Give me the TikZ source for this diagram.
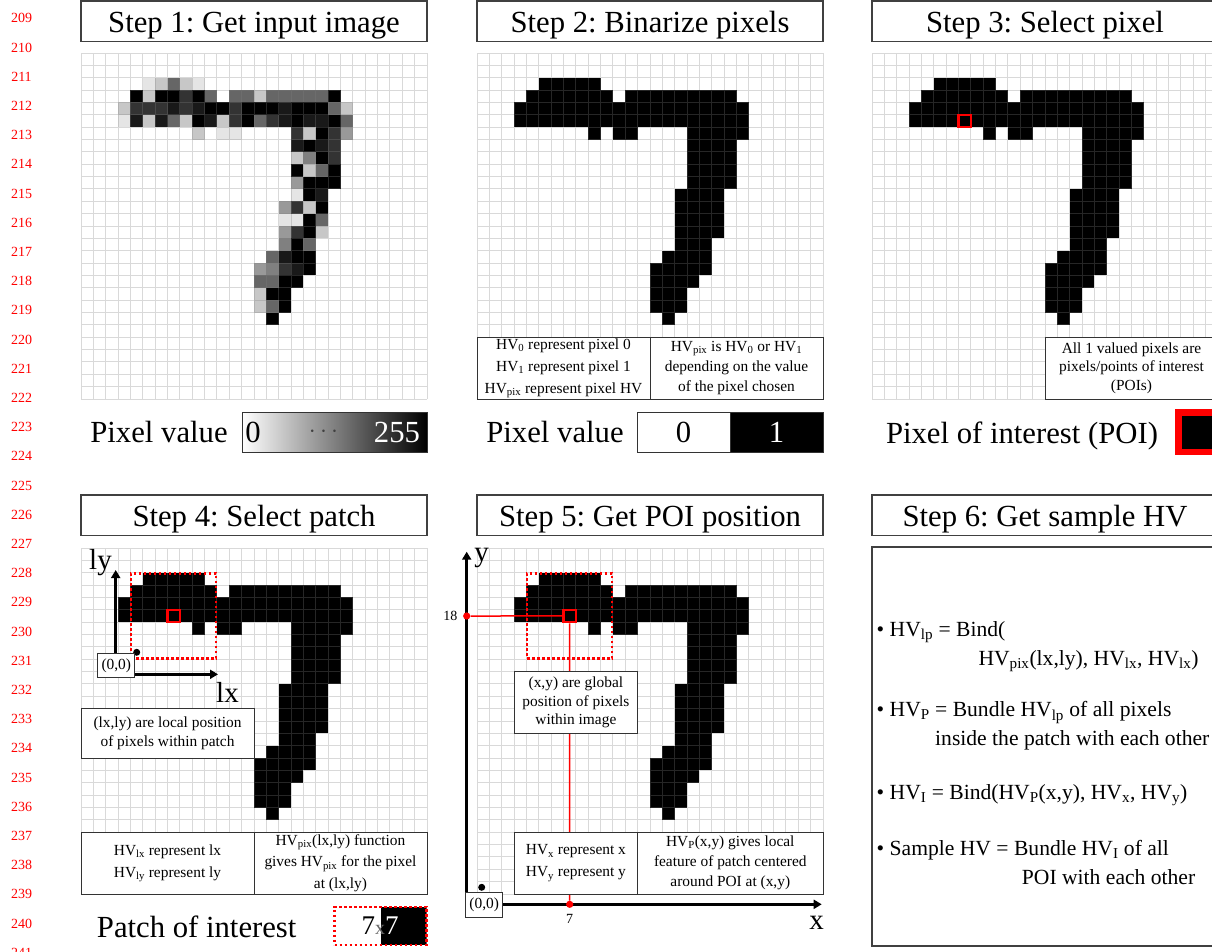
\documentclass[tikz,border=0pt]{standalone}
\usepackage{fontspec}
\setmainfont{Liberation Serif}
\usetikzlibrary{positioning,arrows.meta}
\frenchspacing

\newcommand{\steptxt}{\fontsize{30.7}{36}\selectfont}
\newcommand{\notetxt}{\fontsize{15.4}{18.6}\selectfont}
\newcommand{\hvtxt}{\fontsize{21.6}{28}\selectfont}
\newcommand{\axtxt}{\fontsize{29}{30}\selectfont}
\newcommand{\hv}[1]{HV\textsubscript{#1}}

% 28x28 pixel grid, drawn on top of the pixels
\newcommand{\pixelgrid}{%
  \draw[gridline] \foreach \k in {0,...,28} {(\k,0) -- (\k,28) (0,\k) -- (28,\k)};}
% binarized digit: row/first/last black pixel
\newcommand{\sevenbin}{%
  \foreach \py/\pa/\pb in {2/5/9,3/4/10,3/12/20,4/3/21,5/3/21,6/9/9,6/11/12,6/17/21,
    7/17/20,8/17/20,9/17/20,10/17/20,11/16/19,12/16/19,13/16/19,14/16/19,
    15/16/18,16/15/18,17/14/18,18/14/17,19/14/16,20/14/16,21/15/15}
    {\fill (\pa,\py) rectangle (\pb+1,\py+1);}}
% input digit: column/row/darkness
\newcommand{\sevengray}{%
  \foreach \px/\py/\pv in {5/2/10,6/2/22,7/2/60,8/2/22,9/2/10,
    4/3/100,5/3/22,6/3/100,7/3/100,8/3/80,9/3/100,10/3/60,12/3/60,13/3/60,14/3/22,
    15/3/60,16/3/60,17/3/60,18/3/60,19/3/60,20/3/100,
    3/4/22,4/4/80,5/4/80,6/4/80,7/4/90,8/4/80,9/4/90,10/4/100,11/4/100,12/4/80,
    13/4/100,14/4/100,15/4/100,16/4/90,17/4/100,18/4/100,19/4/100,20/4/60,21/4/22,
    3/5/10,4/5/90,5/5/22,6/5/90,7/5/60,8/5/22,9/5/100,10/5/90,11/5/22,12/5/80,
    13/5/100,14/5/60,15/5/80,16/5/90,17/5/100,18/5/90,19/5/90,20/5/100,21/5/60,
    9/6/22,11/6/10,12/6/10,17/6/80,18/6/22,19/6/100,20/6/80,21/6/40,
    17/7/90,18/7/100,19/7/90,20/7/80,
    17/8/22,18/8/50,19/8/100,20/8/80,
    17/9/100,18/9/22,19/9/60,20/9/100,
    17/10/40,18/10/100,19/10/100,20/10/100,
    17/11/10,18/11/100,19/11/90,
    16/12/40,17/12/80,18/12/22,19/12/100,
    16/13/10,17/13/10,18/13/100,19/13/60,
    16/14/40,17/14/80,18/14/100,19/14/22,
    16/15/50,17/15/100,18/15/60,
    15/16/60,16/16/90,17/16/100,18/16/100,
    14/17/40,15/17/50,16/17/80,17/17/90,18/17/100,
    14/18/60,15/18/60,16/18/100,17/18/100,
    14/19/22,15/19/100,16/19/100,
    14/20/22,15/20/60,16/20/100,
    15/21/100}
    {\fill[black!\pv] (\px,\py) rectangle ++(1,1);}}

\begin{document}
\begin{tikzpicture}[x=1pt,y=-1pt,
    gridline/.style={draw=black!50,opacity=.3,line width=1pt},
    titlebox/.style={draw=black!75,line width=1.2pt,minimum width=346pt,minimum height=40.6pt,
      inner sep=0pt,text height=29pt,text depth=7pt,font=\steptxt},
    notebox/.style={draw=black!80,line width=1pt,fill=white,inner sep=0pt,align=center,font=\notetxt},
    poisq/.style={draw=red,line width=2.4pt,minimum size=12.36pt,inner sep=0pt},
    patchsq/.style={draw=red,line width=2.6pt,dash pattern=on 2.6pt off 2.4pt,inner sep=0pt},
    axisline/.style={line width=2.7pt,-{Triangle[length=8pt,width=9pt]}},
    zerobox/.style={draw=black!80,line width=1pt,fill=white,minimum width=37pt,minimum height=24.5pt,
      inner sep=0pt,font=\notetxt},
    origindot/.style={circle,fill=black,minimum size=7pt,inner sep=0pt},
    reddot/.style={circle,fill=red,minimum size=7.2pt,inner sep=0pt},
    redline/.style={draw=red,line width=1.5pt},
    lineno/.style={text=red,font=\fontsize{14}{16}\selectfont},
    keytxt/.style={anchor=base,font=\steptxt},
    hvline/.style={anchor=base west,font=\hvtxt,inner sep=0pt}]
  \useasboundingbox (0,0) rectangle (1212,951);
  \clip (0,0) rectangle (1212,951);

  % line numbers
  \foreach \n in {209,...,241}
    \node[lineno] (ln\n) at (21.5,{18.3+29.2*(\n-209)}) {\n};

  % step 1
  \node[titlebox] (t1) at (254,21.3) {Step 1: Get input image};
  \begin{scope}[shift={(81,53)},x=12.357pt,y=-12.357pt]
    \sevengray
    \pixelgrid
  \end{scope}
  \node[keytxt] (pv1) at (159,442.7) {Pixel value};
  \node[draw=black!80,line width=1pt,minimum width=185pt,minimum height=40pt,inner sep=0pt,
    left color=white,right color=black] (bar1) at (334.5,432) {};
  \node[keytxt] (v0) at (253,442.7) {0};
  \node[text=black!75,font=\fontsize{24}{24}\selectfont] (dots1) at (323.5,431.7) {$\cdots$};
  \node[keytxt,text=white] (v255) at (397,442.7) {255};

  % step 2
  \node[titlebox] (t2) at (650,21.3) {Step 2: Binarize pixels};
  \begin{scope}[shift={(477,53)},x=12.357pt,y=-12.357pt]
    \sevenbin
    \pixelgrid
  \end{scope}
  \node[notebox,minimum width=173pt,minimum height=61.8pt,font=\fontsize{15.4}{22}\selectfont] (n2a)
    at (563.5,368.1) {\hv{0} represent pixel 0\\\hv{1} represent pixel 1\\\hv{pix} represent pixel HV};
  \node[notebox,minimum width=173pt,minimum height=61.8pt,font=\fontsize{15.4}{20}\selectfont] (n2b)
    at (736.5,368.1) {\hv{pix} is \hv{0} or \hv{1}\\depending on the value\\of the pixel chosen};
  \node[keytxt] (pv2) at (555,442.7) {Pixel value};
  \node[draw=black!80,line width=1pt,minimum width=93pt,minimum height=40pt,inner sep=0pt,
    font=\steptxt,text height=21.4pt,text depth=0pt] (b0) at (683.5,432) {0};
  \node[draw=black!80,line width=1pt,fill=black,text=white,minimum width=93pt,minimum height=40pt,
    inner sep=0pt,font=\steptxt,text height=21.4pt,text depth=0pt] (b1) at (776.5,432) {1};

  % step 3
  \node[titlebox] (t3) at (1045,21.3) {Step 3: Select pixel};
  \begin{scope}[shift={(872,53)},x=12.357pt,y=-12.357pt]
    \sevenbin
    \pixelgrid
    \node[poisq] (poi3) at (7.5,5.5) {};
  \end{scope}
  \node[notebox,minimum width=173pt,minimum height=61.8pt] (n3)
    at (1131.5,368.1) {All 1 valued pixels are\\pixels/points of interest\\(POIs)};
  \node[keytxt] (poitxt) at (1022,443.3) {Pixel of interest (POI)};
  \node[draw=red,line width=6.5pt,fill=black,minimum width=46pt,minimum height=39.3pt,inner sep=0pt]
    (poikey) at (1201.3,432.2) {};

  % step 4
  \node[titlebox] (t4) at (254,515.2) {Step 4: Select patch};
  \begin{scope}[shift={(81,548)},x=12.357pt,y=-12.357pt]
    \sevenbin
    \pixelgrid
    \node[patchsq,minimum size=85pt] (patch4) at (7.5,5.5) {};
    \node[poisq] (poi4) at (7.5,5.5) {};
  \end{scope}
  \coordinate (o4) at (115.7,674.3);
  \coordinate (lytip) at (115.7,570);
  \coordinate (lxtip) at (218,674.3);
  \draw[axisline] (o4) -- (lytip);
  \draw[axisline] (o4) -- (lxtip);
  \node[origindot] (d4) at (136.7,652.3) {};
  \node[zerobox] (z4) at (116.3,665.3) {(0,0)};
  \node[font=\axtxt] (ly) at (100.5,562.5) {ly};
  \node[font=\axtxt] (lx) at (227.5,692.5) {lx};
  \node[notebox,minimum width=173pt,minimum height=49.4pt] (n4a)
    at (167.5,733.4) {(lx,ly) are local position\\of pixels within patch};
  \node[notebox,minimum width=173pt,minimum height=61.8pt,font=\fontsize{15.4}{22}\selectfont] (n4b)
    at (167.5,863.1) {\hv{lx} represent lx\\\hv{ly} represent ly};
  \node[notebox,minimum width=173pt,minimum height=61.8pt,font=\fontsize{15.4}{21.5}\selectfont] (n4c)
    at (340.5,863.1) {\hv{pix}(lx,ly) function\\gives \hv{pix} for the pixel\\at (lx,ly)};
  \node[keytxt] (patchtxt) at (196.7,937.3) {Patch of interest};
  \node[patchsq,minimum width=92pt,minimum height=38pt,
    path picture={\fill (path picture bounding box.north) rectangle (path picture bounding box.south east);}]
    (patchkey) at (380.5,925.8) {};
  \node[anchor=base,font=\fontsize{27}{30}\selectfont] (k77) at (380,934.3)
    {7{\fontsize{20}{24}\selectfont\color{black!60}x}\textcolor{white}{7}};

  % step 5
  \node[titlebox] (t5) at (650,515.2) {Step 5: Get POI position};
  \begin{scope}[shift={(477,548)},x=12.357pt,y=-12.357pt]
    \sevenbin
    \pixelgrid
    \node[patchsq,minimum size=85pt] (patch5) at (7.5,5.5) {};
    \node[poisq] (poi5) at (7.5,5.5) {};
  \end{scope}
  \coordinate (o5) at (466.7,904.3);
  \coordinate (ytip) at (466.7,551.7);
  \coordinate (xtip) at (821.7,904.3);
  \draw[axisline] (o5) -- (ytip);
  \draw[axisline] (o5) -- (xtip);
  \node[reddot] (ydot) at (466.7,616) {};
  \node[reddot] (xdot) at (569.7,904.3) {};
  \draw[redline] (poi5) -- (ydot);
  \draw[redline] (poi5) -- (xdot);
  \node[lineno,text=black,left=2pt of ydot] (l18) {18};
  \node[lineno,text=black] (l7) at (569.7,919.3) {7};
  \node[notebox,minimum width=123.6pt,minimum height=61.8pt] (n5a)
    at (575.9,702.5) {(x,y) are global\\position of pixels\\within image};
  \node[notebox,minimum width=123.6pt,minimum height=61.8pt,font=\fontsize{15.4}{22}\selectfont] (n5b)
    at (575.9,863.1) {\hv{x} represent x\\\hv{y} represent y};
  \node[notebox,minimum width=185.4pt,minimum height=61.8pt,font=\fontsize{15.4}{20}\selectfont] (n5c)
    at (730.3,863.1) {\hv{P}(x,y) gives local\\feature of patch centered\\around POI at (x,y)};
  \node[origindot] (d5) at (481.7,887.3) {};
  \node[zerobox] (z5) at (484.2,905) {(0,0)};
  \node[font=\axtxt] (ylab) at (481.7,558) {y};
  \node[font=\axtxt] (xlab) at (816.7,922.5) {x};

  % step 6
  \node[titlebox] (t6) at (1045,515.2) {Step 6: Get sample HV};
  \node[draw=black!75,line width=1.2pt,minimum width=346pt,minimum height=399pt,inner sep=0pt]
    (box6) at (1045,746.5) {};
  \node[hvline] (s1) at (876.5,636.5) {\textbullet\ \hv{lp} = Bind(};
  \node[hvline] (s2) at (978.3,665) {\hv{pix}(lx,ly), \hv{lx}, \hv{lx})};
  \node[hvline] (s3) at (876.5,716.7) {\textbullet\ \hv{P} = Bundle \hv{lp} of all pixels};
  \node[hvline] (s4) at (935,745.7) {inside the patch with each other};
  \node[hvline] (s5) at (876.5,799.3) {\textbullet\ \hv{I} = Bind(\hv{P}(x,y), \hv{x}, \hv{y})};
  \node[hvline] (s6) at (876.5,855) {\textbullet\ Sample HV = Bundle \hv{I} of all};
  \node[hvline] (s7) at (1021.7,884) {POI with each other};
\end{tikzpicture}
\end{document}
